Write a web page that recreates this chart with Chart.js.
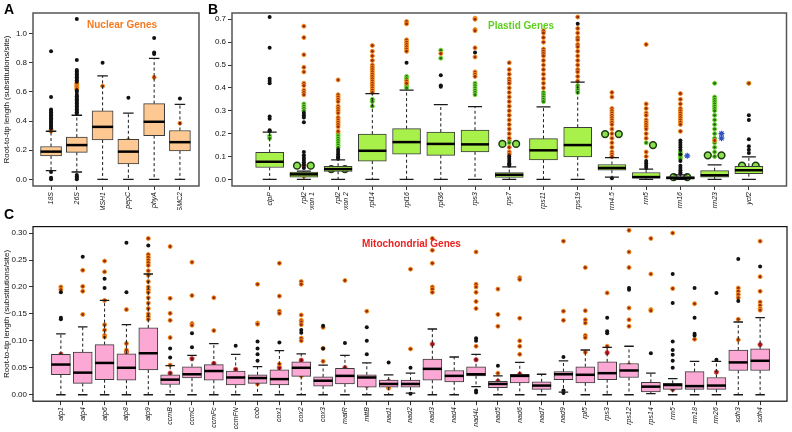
<!DOCTYPE html>
<html>
<head>
<meta charset="utf-8">
<script src="https://cdn.jsdelivr.net/npm/chart.js@4.4.1/dist/chart.umd.min.js"></script>
<style>
  body { margin: 0; background: #fff; width: 792px; height: 432px; overflow: hidden; position: relative; font-family: "Liberation Sans", Arial, sans-serif; }
  canvas { position: absolute; left: 0; top: 0; }
  .lbl { position: absolute; font-weight: bold; white-space: nowrap; line-height: 1; }
</style>
</head>
<body>
<canvas id="chartA" width="792" height="432"></canvas>
<canvas id="chartB" width="792" height="432"></canvas>
<canvas id="chartC" width="792" height="432"></canvas>
<div class="lbl" style="left:4px;top:2px;font-size:14px">A</div>
<div class="lbl" style="left:208px;top:2px;font-size:14px">B</div>
<div class="lbl" style="left:4px;top:207px;font-size:14px">C</div>
<div class="lbl" style="left:87px;top:20px;font-size:10px;color:#f47a20">Nuclear Genes</div>
<div class="lbl" style="left:488px;top:21px;font-size:10px;color:#5fcf1f">Plastid Genes</div>
<div class="lbl" style="left:362px;top:239px;font-size:10px;color:#ee2020">Mitochondrial Genes</div>
<script>
// ---- A: nuclear genes ----
const nuclearGenes = ['18S', '26S', 'MSH1', 'pepC', 'phyA', 'SMC2'];
const nuclearLow    = [0.06, 0.05, 0, 0, 0, 0];
const nuclearQ1     = [0.16, 0.185, 0.27, 0.105, 0.30, 0.195];
const nuclearMedian = [0.19, 0.235, 0.36, 0.19, 0.395, 0.255];
const nuclearQ3     = [0.225, 0.29, 0.47, 0.275, 0.52, 0.335];
const nuclearHigh   = [0.33, 0.44, 0.71, 0.455, 0.83, 0.515];
const nuclearBlack = [
  [0.88, 0.565, 0.48, 0.47, 0.46, 0.45, 0.44, 0.43, 0.42, 0.41, 0.40, 0.39, 0.38, 0.37, 0.36, 0.35, 0.05, 0.01, 0.0],
  [1.10, 0.82, 0.75, 0.74, 0.73, 0.72, 0.71, 0.70, 0.69, 0.68, 0.67, 0.61, 0.60, 0.58, 0.57, 0.56, 0.55, 0.54, 0.53, 0.52, 0.51, 0.50, 0.49, 0.48, 0.47, 0.46, 0.45, 0.03, 0.02, 0.01, 0.0],
  [0.80],
  [0.56],
  [0.97, 0.87, 0.86],
  [0.555]
];
const nuclearOrange = [[0.34, 0.33], [0.66, 0.65, 0.64, 0.63, 0.62], [0.64], [0.27], [0.70], [0.385]];

// ---- B: plastid genes ----
const plastidGenes = ['clpP', ['rpl2', 'exon 1'], ['rpl2', 'exon 2'], 'rpl14', 'rpl16', 'rpl36', 'rps3', 'rps7',
  'rps11', 'rps19', 'rrn4.5', 'rrn5', 'rrn16', 'rrn23', 'ycf2'];
const plastidLow    = [0, 0, 0, 0, 0, 0, 0, 0, 0, 0, 0.01, 0, 0, 0, 0];
const plastidQ1     = [0.052, 0.01, 0.035, 0.08, 0.11, 0.105, 0.12, 0.008, 0.085, 0.098, 0.04, 0.005, 0.003, 0.01, 0.025];
const plastidMedian = [0.077, 0.022, 0.045, 0.125, 0.163, 0.155, 0.153, 0.02, 0.127, 0.15, 0.05, 0.01, 0.006, 0.018, 0.04];
const plastidQ3     = [0.118, 0.032, 0.057, 0.198, 0.222, 0.207, 0.215, 0.03, 0.178, 0.228, 0.065, 0.03, 0.012, 0.038, 0.057];
const plastidHigh   = [0.207, 0.036, 0.085, 0.375, 0.39, 0.327, 0.318, 0.055, 0.317, 0.425, 0.095, 0.045, 0.02, 0.063, 0.098];
const plastidBlack = [
  [0.71, 0.575, 0.44, 0.43, 0.42, 0.275, 0.265, 0.215, 0.21],
  [0.29, 0.28, 0.27, 0.25, 0.12, 0.105, 0.095, 0.085, 0.075, 0.065, 0.05],
  [0.13, 0.12, 0.11, 0.10, 0.095, 0.09],
  [],
  [0.51],
  [0.455, 0.41, 0.405],
  [0.555],
  [0.10, 0.09, 0.08, 0.07, 0.065, 0.06],
  [],
  [0.68],
  [0.005],
  [0.08, 0.07, 0.06, 0.05],
  [0.17, 0.16, 0.15, 0.14, 0.13, 0.11, 0.08, 0.06, 0.05, 0.04, 0.03, 0.025],
  [],
  [0.28, 0.26, 0.175, 0.145, 0.13, 0.115]
];
const plastidOrange = [
  [],
  [0.67, 0.62, 0.545, 0.49, 0.47, 0.42, 0.41, 0.39, 0.38, 0.37, 0.015],
  [0.435, 0.37, 0.36, 0.35, 0.34, 0.32, 0.31, 0.30, 0.29, 0.27, 0.26, 0.25, 0.24, 0.23, 0.21],
  [0.585, 0.56, 0.54, 0.52, 0.50, 0.49, 0.48, 0.47, 0.46, 0.45, 0.44, 0.43, 0.42, 0.41, 0.40, 0.39, 0.38],
  [0.69, 0.68, 0.61, 0.60, 0.59, 0.58, 0.57, 0.56, 0.43, 0.42],
  [0.55],
  [0.705, 0.70, 0.655, 0.65, 0.575, 0.535, 0.47, 0.46, 0.45],
  [0.51, 0.48, 0.46, 0.44, 0.43, 0.42, 0.40, 0.38, 0.36, 0.34, 0.32, 0.30, 0.28, 0.26, 0.24, 0.22, 0.20, 0.18, 0.14, 0.12, 0.11],
  [0.65, 0.64, 0.62, 0.60, 0.57, 0.56, 0.55, 0.54, 0.52, 0.50, 0.48, 0.46, 0.44, 0.42, 0.40],
  [0.71, 0.66, 0.64, 0.62, 0.61, 0.59, 0.58, 0.56, 0.54, 0.52, 0.50, 0.48, 0.47, 0.45, 0.43],
  [0.38, 0.36, 0.31, 0.30, 0.29, 0.28, 0.27, 0.26, 0.25, 0.24, 0.22, 0.20, 0.18, 0.16, 0.14, 0.12, 0.11, 0.10],
  [0.59, 0.33, 0.31, 0.29, 0.28, 0.26, 0.25, 0.24, 0.23, 0.22, 0.20, 0.18, 0.12, 0.10],
  [0.375, 0.35, 0.33, 0.31, 0.30, 0.29, 0.28, 0.27, 0.26, 0.25, 0.24, 0.21],
  [0.17],
  [0.42]
];
const plastidGreen = [
  [0.19, 0.18], [0.33, 0.32, 0.31, 0.30], [0.20, 0.19, 0.18, 0.17, 0.16, 0.15, 0.14], [0.35, 0.34, 0.32],
  [0.45, 0.44, 0.41, 0.40], [0.565, 0.53], [0.42, 0.41, 0.40, 0.39, 0.38, 0.37], [0.17, 0.16],
  [0.38, 0.37, 0.36, 0.35, 0.34], [0.41, 0.40, 0.39, 0.38], [], [0.16], [0.12, 0.11, 0.10, 0.09],
  [0.42, 0.36, 0.35, 0.34, 0.33, 0.32, 0.31, 0.30, 0.28, 0.26, 0.24, 0.22, 0.20, 0.18, 0.16, 0.14, 0.12, 0.10],
  [0.42]
];
const plastidCircledLeft  = [null, 0.06, 0.045, null, null, null, null, 0.155, null, null, 0.198, null, 0.01, 0.105, 0.06];
const plastidCircledRight = [null, 0.06, 0.045, null, null, null, null, 0.155, null, null, 0.198, 0.15, 0.01, 0.105, 0.06];
const plastidBlue = [[], [], [], [], [], [], [], [], [], [], [], [], [0.103], [0.20, 0.18], []];
const plastidRed  = [[], [0.06], [], [], [], [], [], [], [], [], [], [], [], [], []];

// ---- C: mitochondrial genes ----
const mitoGenes = ['atp1', 'atp4', 'atp6', 'atp8', 'atp9', 'ccmB', 'ccmC', 'ccmFc', 'ccmFN', 'cob', 'cox1', 'cox2',
  'cox3', 'matR', 'mttB', 'nad1', 'nad2', 'nad3', 'nad4', 'nad4L', 'nad5', 'nad6', 'nad7', 'nad9', 'rpl5', 'rps3',
  'rps12', 'rps14', 'rrn5', 'rrn18', 'rrn26', 'sdh3', 'sdh4'];
const mitoLow    = [0, 0, 0, 0, 0, 0, 0, 0, 0, 0, 0, 0, 0, 0, 0, 0, 0.003, 0, 0, 0.015, 0, 0, 0, 0.005, 0, 0, 0, 0.002, 0, 0, 0, 0, 0];
const mitoQ1     = [0.037, 0.021, 0.028, 0.027, 0.046, 0.019, 0.031, 0.027, 0.018, 0.021, 0.018, 0.034, 0.016, 0.02, 0.014, 0.014, 0.014,
  0.027, 0.024, 0.035, 0.013, 0.022, 0.01, 0.028, 0.022, 0.028, 0.032, 0.005, 0.01, 0.01, 0.01, 0.045, 0.045];
const mitoMedian = [0.056, 0.041, 0.059, 0.05, 0.077, 0.028, 0.038, 0.044, 0.032, 0.031, 0.029, 0.05, 0.026, 0.035, 0.032, 0.02, 0.02,
  0.048, 0.035, 0.038, 0.02, 0.035, 0.017, 0.038, 0.037, 0.04, 0.045, 0.015, 0.018, 0.016, 0.017, 0.06, 0.063];
const mitoQ3     = [0.075, 0.079, 0.093, 0.076, 0.124, 0.037, 0.052, 0.056, 0.044, 0.037, 0.046, 0.061, 0.033, 0.049, 0.037, 0.027, 0.027,
  0.066, 0.045, 0.052, 0.025, 0.038, 0.024, 0.043, 0.052, 0.061, 0.058, 0.023, 0.021, 0.043, 0.032, 0.083, 0.085];
const mitoHigh   = [0.113, 0.126, 0.175, 0.13, 0.224, 0.054, 0.073, 0.095, 0.075, 0.052, 0.082, 0.076, 0.055, 0.073, 0.059, 0.037, 0.04,
  0.122, 0.07, 0.075, 0.035, 0.06, 0.038, 0.063, 0.083, 0.088, 0.09, 0.04, 0.03, 0.062, 0.062, 0.135, 0.143];
const mitoBlack = [
  [0.143, 0.14, 0.19], [0.256], [0.215, 0.198], [0.282, 0.19], [0.277], [0.086, 0.069], [0.114, 0.088], [], [0.091],
  [0.099, 0.086, 0.075, 0.063], [0.097], [0.12, 0.115], [0.128, 0.086], [0.096], [0.125, 0.10, 0.075], [0.06],
  [0.05, 0.002], [], [], [0.105, 0.10, 0.008, 0.004], [0.054], [], [], [0.07, 0.008, 0.003], [], [0.143, 0.118, 0.114],
  [0.198, 0.195], [0.077], [0.224, 0.17, 0.099, 0.083, 0.074, 0.063, 0.05], [0.198, 0.143, 0.113, 0.11], [0.189, 0.065],
  [0.252, 0.174], [0.238]
];
const mitoOrange = [
  [0.20, 0.195], [0.231, 0.201, 0.192, 0.149], [0.248, 0.228, 0.175, 0.13, 0.12, 0.11, 0.107], [0.158, 0.095, 0.083, 0.075],
  [0.29, 0.26, 0.255, 0.25, 0.245, 0.24, 0.23, 0.222, 0.21, 0.20, 0.195, 0.19, 0.18, 0.17, 0.16, 0.15, 0.145, 0.14],
  [0.275, 0.179, 0.151, 0.138, 0.106, 0.055], [0.246, 0.184, 0.132, 0.129], [0.18, 0.119], [], [0.205, 0.133, 0.131, 0.02],
  [0.244, 0.183, 0.155, 0.151, 0.057], [0.21, 0.205, 0.148, 0.138, 0.135, 0.13, 0.105, 0.10, 0.035], [0.125, 0.086, 0.062],
  [0.212], [0.155], [0.012, 0.015], [0.233, 0.085], [0.29, 0.268, 0.244, 0.20, 0.196, 0.19], [],
  [0.265, 0.205, 0.20, 0.19, 0.173, 0.16, 0.09], [0.196, 0.149, 0.127, 0.04], [0.217, 0.214, 0.142, 0.10, 0.09, 0.075], [],
  [0.285, 0.155, 0.138], [0.236, 0.156, 0.139, 0.133, 0.11, 0.106, 0.079], [0.189, 0.09], [0.305, 0.265, 0.236, 0.161, 0.139, 0.127],
  [0.29, 0.224, 0.158, 0.156], [0.30, 0.197], [0.169, 0.103], [], [0.198, 0.192, 0.186, 0.18, 0.14, 0.102],
  [0.285, 0.219, 0.192, 0.172, 0.166, 0.16, 0.157]
];
const mitoRed = [
  [0.075, 0.058], [0.043], [0.072, 0.07], [0.08], [0.11, 0.108], [0.03, 0.04], [0.067], [0.058], [0.047], [0.028], [0.05],
  [0.064], [0.025], [0.05], [0.017], [0.02, 0.025], [0.02], [0.094], [0.033], [0.065], [0.025, 0.02], [0.038], [0.017],
  [0.038], [0.037], [0.078], [0.055], [], [0.01], [0.016], [0.042], [0.06], [0.093]
];

const yTitle = 'Root-to-tip length (substitutions/site)';

function toPoints(groups, offset) {
  const pts = [];
  groups.forEach((vals, i) => {
    (vals || []).forEach(v => { if (v !== null) pts.push({ x: i + 1 + (offset || 0), y: v }); });
  });
  return pts;
}
const single = arr => arr.map(v => (v === null ? [] : [v]));

const styles = {
  black:  { pointRadius: 2, backgroundColor: '#111', borderColor: '#111', borderWidth: 0 },
  orange: { pointRadius: 2, backgroundColor: '#9a2a14', borderColor: '#f7941d', borderWidth: 1 },
  green:  { pointRadius: 2, backgroundColor: '#2f6b1a', borderColor: '#6fe030', borderWidth: 1 },
  red:    { pointRadius: 2.2, backgroundColor: '#a8101a', borderColor: '#d84a40', borderWidth: 0.8 },
  circled:{ pointRadius: 3.4, backgroundColor: '#8be04e', borderColor: '#1e3a10', borderWidth: 1.5 },
  dot:    { pointRadius: 0.9, backgroundColor: '#1e3a10', borderColor: '#1e3a10', borderWidth: 0 },
  blue:   { pointRadius: 3, pointStyle: 'star', backgroundColor: '#3050c0', borderColor: '#3050c0', borderWidth: 1.2 }
};

const boxPlugin = {
  id: 'boxWhiskers',
  afterDatasetDraw(chart, args, opts) {
    if (args.index !== 0) return;
    const { ctx } = chart;
    const x = chart.scales.x, y = chart.scales.y;
    const bars = chart.getDatasetMeta(0).data;
    ctx.save();
    opts.median.forEach((m, i) => {
      const cx = x.getPixelForValue(i + 1);
      const w = bars[i].width;
      ctx.strokeStyle = '#1a1a1a';
      ctx.lineWidth = 1;
      ctx.setLineDash([3, 2.5]);
      ctx.beginPath();
      ctx.moveTo(cx, y.getPixelForValue(opts.q3[i])); ctx.lineTo(cx, y.getPixelForValue(opts.high[i]));
      ctx.moveTo(cx, y.getPixelForValue(opts.q1[i])); ctx.lineTo(cx, y.getPixelForValue(opts.low[i]));
      ctx.stroke();
      ctx.setLineDash([]);
      ctx.lineWidth = 1.3;
      ctx.beginPath();
      [opts.high[i], opts.low[i]].forEach(v => {
        const py = y.getPixelForValue(v);
        ctx.moveTo(cx - w / 4, py); ctx.lineTo(cx + w / 4, py);
      });
      ctx.stroke();
      ctx.lineWidth = 2.5;
      ctx.strokeStyle = '#000';
      ctx.beginPath();
      const my = y.getPixelForValue(m);
      ctx.moveTo(cx - w / 2, my); ctx.lineTo(cx + w / 2, my);
      ctx.stroke();
    });
    ctx.restore();
  },
  afterDatasetsDraw(chart, args, opts) {
    const a = chart.chartArea, ctx = chart.ctx;
    ctx.save();
    ctx.strokeStyle = opts.frame;
    ctx.lineWidth = opts.frameWidth;
    ctx.strokeRect(a.left, a.top, a.right - a.left, a.bottom - a.top);
    ctx.restore();
  }
};

function boxPanel(id, g, genes, low, q1, median, q3, high, layers, fill, yTicks, digits, showTitle, frame, frameWidth) {
  const datasets = [{
    type: 'bar',
    data: genes.map((_, i) => ({ x: i + 1, y: [q1[i], q3[i]] })),
    backgroundColor: fill,
    borderColor: '#3b3b3b',
    borderWidth: 1,
    borderSkipped: false,
    barThickness: g.box
  }];
  layers.forEach(l => {
    datasets.push(Object.assign({ type: 'scatter', data: toPoints(l.values, l.offset), showLine: false, clip: false }, styles[l.style]));
  });
  new Chart(document.getElementById(id), {
    type: 'bar',
    data: { datasets },
    plugins: [boxPlugin],
    options: {
      responsive: false,
      animation: false,
      events: [],
      layout: { padding: { left: g.L - g.yw, top: g.T, right: 792 - g.R, bottom: 432 - g.B - g.xh } },
      plugins: {
        legend: { display: false },
        tooltip: { enabled: false },
        boxWhiskers: { low, q1, median, q3, high, frame, frameWidth }
      },
      scales: {
        x: {
          type: 'linear', min: g.xmin, max: g.xmax, offset: false,
          afterBuildTicks: s => { s.ticks = genes.map((_, i) => ({ value: i + 1 })); },
          afterFit: s => { s.height = g.xh; },
          grid: { display: true, drawOnChartArea: false, drawTicks: true, tickLength: 4, color: '#333', offset: false },
          border: { display: false },
          ticks: {
            autoSkip: false, minRotation: 90, maxRotation: 90, padding: 2, color: '#111',
            font: { family: 'Liberation Sans', size: 7, style: 'italic' },
            callback: v => genes[v - 1]
          }
        },
        y: {
          type: 'linear', min: g.ymin, max: g.ymax,
          afterBuildTicks: s => { s.ticks = yTicks.map(v => ({ value: v })); },
          afterFit: s => { s.width = g.yw; },
          grid: { display: true, drawOnChartArea: false, drawTicks: true, tickLength: 4, color: '#333' },
          border: { display: false },
          title: { display: showTitle, text: yTitle, padding: { top: 2, bottom: 0 }, color: '#111', font: { family: 'Liberation Sans', size: 8 } },
          ticks: { padding: 2, color: '#111', font: { family: 'Liberation Sans', size: 8 }, callback: v => v.toFixed(digits) }
        }
      }
    }
  });
}

boxPanel('chartA',
  { L: 33, T: 13, R: 199, B: 186, yw: 33, xh: 24, xmin: 0.3, xmax: 6.74, ymin: -0.046, ymax: 1.142, box: 21 },
  nuclearGenes, nuclearLow, nuclearQ1, nuclearMedian, nuclearQ3, nuclearHigh,
  [{ values: nuclearBlack, style: 'black' }, { values: nuclearOrange, style: 'orange' }],
  '#fdc891', [0, 0.2, 0.4, 0.6, 0.8, 1.0], 1, true, '#555', 1.5);

boxPanel('chartB',
  { L: 232, T: 13, R: 791, B: 186, yw: 22, xh: 24, xmin: -0.1, xmax: 16.1, ymin: -0.029, ymax: 0.7275, box: 28 },
  plastidGenes, plastidLow, plastidQ1, plastidMedian, plastidQ3, plastidHigh,
  [
    { values: plastidBlack, style: 'black' },
    { values: plastidOrange, style: 'orange' },
    { values: plastidGreen, style: 'green' },
    { values: plastidRed, style: 'red' },
    { values: plastidBlue, style: 'blue', offset: 0.2 },
    { values: single(plastidCircledLeft), style: 'circled', offset: -0.2 },
    { values: single(plastidCircledRight), style: 'circled', offset: 0.2 },
    { values: single(plastidCircledLeft), style: 'dot', offset: -0.2 },
    { values: single(plastidCircledRight), style: 'dot', offset: 0.2 }
  ],
  '#a8f04a', [0, 0.1, 0.2, 0.3, 0.4, 0.5, 0.6, 0.7], 1, false, '#555', 1.5);

boxPanel('chartC',
  { L: 33, T: 226.6, R: 790, B: 401.2, yw: 33, xh: 28, xmin: -0.276, xmax: 34.23, ymin: -0.012, ymax: 0.312, box: 19 },
  mitoGenes, mitoLow, mitoQ1, mitoMedian, mitoQ3, mitoHigh,
  [{ values: mitoBlack, style: 'black' }, { values: mitoOrange, style: 'orange' }, { values: mitoRed, style: 'red' }],
  '#fba8d4', [0, 0.05, 0.1, 0.15, 0.2, 0.25, 0.3], 2, true, '#111', 1.2);
</script>
</body>
</html>
